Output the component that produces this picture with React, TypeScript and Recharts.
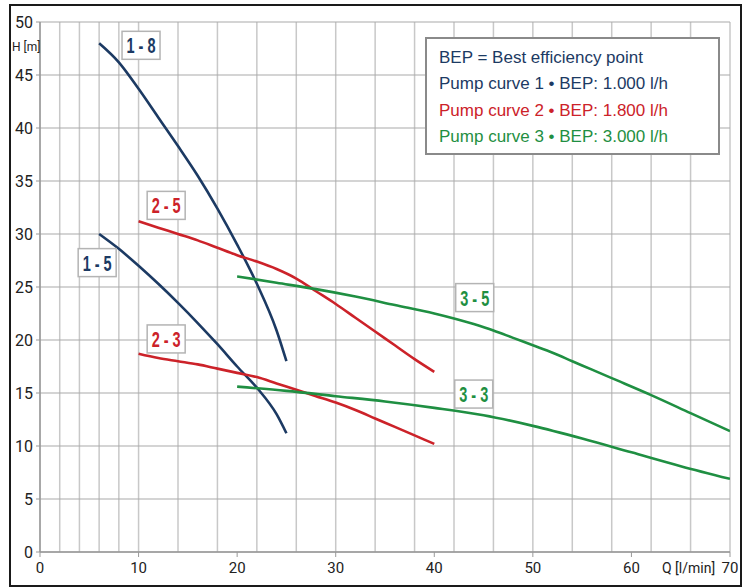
import React from 'react';
import { LineChart, Line, XAxis, YAxis, CartesianGrid, ReferenceDot } from 'recharts';

const NAVY = '#1c3a63';
const RED = '#cc2229';
const GREEN = '#1f8f42';

// Curve 1-8
const q18 = [6, 8, 10, 12, 14, 16, 18, 20, 22, 24, 25];
const h18 = [48, 46.2, 43.7, 41.0, 38.3, 35.5, 32.4, 29.0, 25.3, 20.9, 18];
// Curve 1-5
const q15 = [6, 8, 10, 12, 14, 16, 18, 20, 22, 24, 25];
const h15 = [30, 28.6, 27.0, 25.3, 23.5, 21.6, 19.6, 17.5, 15.5, 13.0, 11.2];
// Curve 2-5
const q25 = [10, 12, 14, 16, 18, 20, 22, 24, 26, 28, 30, 32, 34, 36, 38, 40];
const h25 = [31.2, 30.6, 30, 29.4, 28.7, 28.0, 27.4, 26.7, 25.8, 24.6, 23.4, 22.1, 20.8, 19.5, 18.2, 17];
// Curve 2-3
const q23 = [10, 12, 14, 16, 18, 20, 22, 24, 26, 28, 30, 32, 34, 36, 38, 40];
const h23 = [18.7, 18.3, 18.0, 17.7, 17.3, 16.9, 16.5, 15.9, 15.3, 14.7, 14.1, 13.4, 12.6, 11.8, 11.0, 10.2];
// Curve 3-5
const q35 = [20, 24, 28, 32, 36, 40, 44, 46, 48, 50, 52, 54, 56, 58, 62, 66, 70];
const h35 = [26, 25.4, 24.8, 24.1, 23.3, 22.5, 21.5, 20.9, 20.2, 19.5, 18.8, 18.0, 17.2, 16.4, 14.8, 13.1, 11.4];
// Curve 3-3
const q33 = [20, 25, 30, 35, 40, 45, 50, 55, 60, 65, 70];
const h33 = [15.6, 15.2, 14.7, 14.2, 13.6, 12.9, 11.9, 10.7, 9.4, 8.1, 6.9];

const xTicks = [0, 10, 20, 30, 40, 50, 60, 70];
const yTicks = [0, 5, 10, 15, 20, 25, 30, 35, 40, 45, 50];
const xGrid = [0, 2, 4, 6, 8, 10, 12, 14, 16, 18, 20, 22, 24, 26, 28, 30, 32, 34, 36, 38, 40, 42, 44, 46, 48, 50, 52, 54, 56, 58, 60, 62, 64, 66, 68, 70];
const yGrid = [0, 5, 10, 15, 20, 25, 30, 35, 40, 45, 50];

const curveLabels = [
  { text: '1 - 8', q: 10.25, h: 47.8, color: NAVY },
  { text: '1 - 5', q: 5.8, h: 27.3, color: NAVY },
  { text: '2 - 5', q: 12.8, h: 32.7, color: RED },
  { text: '2 - 3', q: 12.8, h: 20.1, color: RED },
  { text: '3 - 5', q: 44.1, h: 24.0, color: GREEN },
  { text: '3 - 3', q: 44.0, h: 14.9, color: GREEN },
];

const legendLines = [
  { text: 'BEP = Best efficiency point', color: NAVY },
  { text: 'Pump curve 1 \u2022 BEP: 1.000 l/h', color: NAVY },
  { text: 'Pump curve 2 \u2022 BEP: 1.800 l/h', color: RED },
  { text: 'Pump curve 3 \u2022 BEP: 3.000 l/h', color: GREEN },
];

const zip = (qs: number[], hs: number[]) => qs.map((q, i) => ({ q, h: hs[i] }));

const series = [
  { name: '1-8', data: zip(q18, h18), color: NAVY },
  { name: '1-5', data: zip(q15, h15), color: NAVY },
  { name: '2-5', data: zip(q25, h25), color: RED },
  { name: '2-3', data: zip(q23, h23), color: RED },
  { name: '3-5', data: zip(q35, h35), color: GREEN },
  { name: '3-3', data: zip(q33, h33), color: GREEN },
];

const TICK_FONT = 'Roboto, "Liberation Sans", sans-serif';
const LABEL_FONT = '"Liberation Sans", Arial, sans-serif';

const LabelBox = (props: any) => {
  const { cx, cy, text, color } = props;
  const w = 38;
  const h = 28;
  return (
    <g>
      <rect x={cx - w / 2} y={cy - h / 2} width={w} height={h} fill="#ffffff" stroke="#b4b4b4" strokeWidth={1.5} />
      <text
        x={cx}
        y={cy + 8}
        textAnchor="middle"
        fontFamily={LABEL_FONT}
        fontWeight="bold"
        fontSize={22}
        textLength={29}
        lengthAdjust="spacingAndGlyphs"
        fill={color}
      >
        {text}
      </text>
    </g>
  );
};

export default function App() {
  return (
    <div style={{ position: 'absolute', left: 0, top: 0, width: 750, height: 588, background: '#fff' }}>
      <LineChart
        width={750}
        height={588}
        margin={{ top: 22, right: 20, bottom: 0, left: 0 }}
      >
        <CartesianGrid
          horizontal={false}
          vertical={true}
          verticalValues={xGrid}
          stroke="#c8c8c8"
          strokeWidth={1.5}
        />
        <CartesianGrid
          horizontal={true}
          vertical={false}
          horizontalValues={yGrid}
          stroke="#a9a9a9"
          strokeWidth={1.2}
        />
        <XAxis
          dataKey="q"
          type="number"
          domain={[0, 70]}
          ticks={xTicks}
          height={36}
          allowDataOverflow
          axisLine={{ stroke: '#999', strokeWidth: 1.5 }}
          tickLine={{ stroke: '#999' }}
          tickSize={5}
          tick={{ fontSize: 15, fill: '#222', fontFamily: TICK_FONT, dy: 3 }}
        />
        <YAxis
          dataKey="h"
          type="number"
          domain={[0, 50]}
          ticks={yTicks}
          width={40}
          allowDataOverflow
          axisLine={{ stroke: '#999', strokeWidth: 1.5 }}
          tickLine={{ stroke: '#999' }}
          tickSize={4}
          tick={{ fontSize: 16, fill: '#222', fontFamily: TICK_FONT, dx: -1 }}
        />
        {series.map((s) => (
          <Line
            key={s.name}
            data={s.data}
            dataKey="h"
            type="monotone"
            stroke={s.color}
            strokeWidth={2.6}
            dot={false}
            activeDot={false}
            isAnimationActive={false}
          />
        ))}
        {curveLabels.map((l) => (
          <ReferenceDot
            key={l.text}
            x={l.q}
            y={l.h}
            r={0}
            shape={(p: any) => <LabelBox cx={p.cx} cy={p.cy} text={l.text} color={l.color} />}
          />
        ))}
      </LineChart>
      <div
        style={{
          position: 'absolute',
          left: 12,
          top: 40,
          fontFamily: TICK_FONT,
          fontSize: 12,
          color: '#222',
        }}
      >
        H [m]
      </div>
      <div
        style={{
          position: 'absolute',
          left: 662,
          top: 560,
          fontFamily: TICK_FONT,
          fontSize: 14,
          color: '#222',
        }}
      >
        Q [l/min]
      </div>
      <div
        style={{
          position: 'absolute',
          left: 425,
          top: 37,
          width: 295,
          height: 118,
          boxSizing: 'border-box',
          border: '2px solid #8a8a8a',
          background: '#fff',
          padding: '6px 0 0 12px',
          fontFamily: '"Liberation Sans", Arial, sans-serif',
          fontSize: 17,
          lineHeight: '26.3px',
        }}
      >
        {legendLines.map((l) => (
          <div key={l.text} style={{ color: l.color, whiteSpace: 'nowrap' }}>
            {l.text}
          </div>
        ))}
      </div>
      <div
        style={{
          position: 'absolute',
          left: 9,
          top: 4,
          width: 733,
          height: 583,
          boxSizing: 'border-box',
          border: '2px solid #1a1a1a',
          pointerEvents: 'none',
        }}
      />
    </div>
  );
}
